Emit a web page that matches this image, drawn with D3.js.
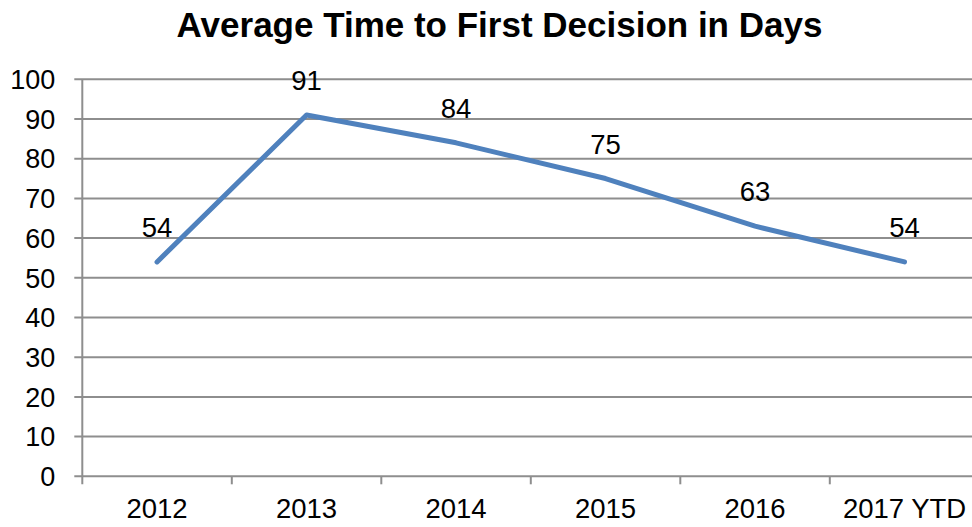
<!DOCTYPE html>
<html>
<head>
<meta charset="utf-8">
<script src="https://cdn.jsdelivr.net/npm/d3@7"></script>
<style>
  body { margin: 0; background: #fff; }
  text { font-family: "Liberation Sans", Arial, sans-serif; fill: #000; }
</style>
</head>
<body>
<div class="chart"></div>
<script>
const categories = ["2012", "2013", "2014", "2015", "2016", "2017 YTD"]
const days = [54, 91, 84, 75, 63, 54]
const yTicks = [0, 10, 20, 30, 40, 50, 60, 70, 80, 90, 100]
const title = "Average Time to First Decision in Days"

const width = 972, height = 527
const margin = {top: 79.3, left: 82.3, bottom: 527 - 476.3}
const band = 149.5

let svg = d3.select(".chart")
  .append("svg")
    .attr("width", width)
    .attr("height", height)

let x = d3.scaleBand()
  .domain(categories)
  .range([margin.left, margin.left + band * categories.length])

let y = d3.scaleLinear()
  .domain([0, 100])
  .range([height - margin.bottom, margin.top])

// gridlines
svg.append("g")
  .selectAll("line")
  .data(yTicks)
  .enter()
  .append("line")
    .attr("x1", margin.left - 8)
    .attr("x2", width)
    .attr("y1", (d) => y(d))
    .attr("y2", (d) => y(d))
    .attr("stroke", "#8e8e8e")
    .attr("stroke-width", 2)

// y axis labels
svg.append("g")
  .selectAll("text")
  .data(yTicks)
  .enter()
  .append("text")
    .attr("x", margin.left - 27)
    .attr("y", (d) => y(d))
    .attr("dy", "0.36em")
    .attr("text-anchor", "end")
    .attr("font-size", 27)
    .text((d) => d)

// y axis line
svg.append("line")
  .attr("x1", margin.left).attr("x2", margin.left)
  .attr("y1", y(100)).attr("y2", y(0) + 8)
  .attr("stroke", "#8e8e8e")
  .attr("stroke-width", 2)

// x category ticks
svg.append("g")
  .selectAll("line")
  .data(categories.slice(1))
  .enter()
  .append("line")
    .attr("x1", (d) => x(d))
    .attr("x2", (d) => x(d))
    .attr("y1", y(0))
    .attr("y2", y(0) + 8)
    .attr("stroke", "#8e8e8e")
    .attr("stroke-width", 2)

// x labels
svg.append("g")
  .selectAll("text")
  .data(categories)
  .enter()
  .append("text")
    .attr("x", (d) => x(d) + x.bandwidth() / 2)
    .attr("y", y(0) + 42)
    .attr("text-anchor", "middle")
    .attr("font-size", 27.5)
    .text((d) => d)

// line
let line = d3.line()
  .x((d, i) => x(categories[i]) + x.bandwidth() / 2)
  .y((d) => y(d))

svg.append("path")
  .datum(days)
  .attr("d", line)
  .attr("fill", "none")
  .attr("stroke", "#4f81bd")
  .attr("stroke-width", 5)
  .attr("stroke-linecap", "round")
  .attr("stroke-linejoin", "round")

// data labels
svg.append("g")
  .selectAll("text")
  .data(days)
  .enter()
  .append("text")
    .attr("x", (d, i) => x(categories[i]) + x.bandwidth() / 2)
    .attr("y", (d) => y(d) - 25)
    .attr("text-anchor", "middle")
    .attr("font-size", 27.5)
    .text((d) => d)

// title
svg.append("text")
  .attr("x", 499.5)
  .attr("y", 37)
  .attr("text-anchor", "middle")
  .attr("font-size", 35)
  .attr("font-weight", "bold")
  .text(title)
</script>
</body>
</html>
